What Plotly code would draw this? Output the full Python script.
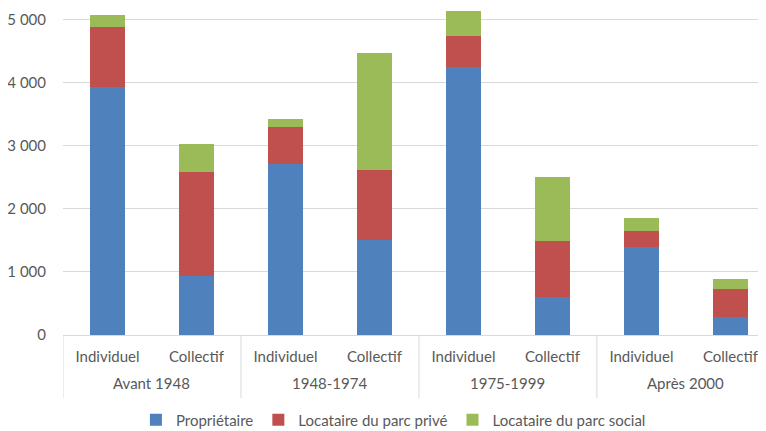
import plotly.graph_objects as go

periodes = ["Avant 1948", "1948-1974", "1975-1999", "Après 2000"]
types = ["Individuel", "Collectif"]

proprietaire = [3930, 940, 2710, 1510, 4250, 600, 1390, 280]
locataire_prive = [960, 1650, 585, 1110, 495, 890, 265, 450]
locataire_social = [185, 440, 135, 1850, 400, 1020, 200, 165]

series = [
    ("Propriétaire", proprietaire, "#4F81BD"),
    ("Locataire du parc privé", locataire_prive, "#C0504D"),
    ("Locataire du parc social", locataire_social, "#9BBB59"),
]

cats = [f"{p}|{t}" for p in periodes for t in types]
cat_text = [t for p in periodes for t in types]

fig = go.Figure()
for name, vals, col in series:
    fig.add_trace(go.Bar(x=cats, y=vals, name=name,
                         marker=dict(color=col, line=dict(width=0))))

grey = "#595959"
line_col = "#D9D9D9"
font_fam = "Lato, Carlito, Open Sans, sans-serif"

# group labels and dividers, placed on the category axis
n = len(types)
for i, p in enumerate(periodes):
    fig.add_annotation(x=i * n + (n - 1) / 2, y=-0.147, xref="x", yref="paper",
                       text=p, showarrow=False, yanchor="middle",
                       font=dict(size=15, color=grey, family=font_fam))
for i in range(len(periodes) + 1):
    fig.add_shape(type="line", xref="x", yref="paper",
                  x0=i * n - 0.5, x1=i * n - 0.5, y0=0, y1=-0.193,
                  line=dict(color=line_col, width=1))

fig.update_layout(
    barmode="stack",
    bargap=0.6,
    width=758, height=423,
    margin=dict(l=55, r=0, t=0, b=96, autoexpand=False),
    paper_bgcolor="white", plot_bgcolor="white",
    separators=", ",
    font=dict(family=font_fam, size=15, color=grey),
    legend=dict(orientation="h", x=0.47, xanchor="center", y=-0.26, yanchor="middle",
                font=dict(size=15, color=grey), itemwidth=30, traceorder="normal"),
    showlegend=True,
)
fig.update_yaxes(range=[0, 5190], dtick=1000, tickformat=",d",
                 showgrid=True, gridcolor=line_col, gridwidth=1,
                 zeroline=False, showline=False, ticks="", automargin=False,
                 ticklabelstandoff=16,
                 tickfont=dict(size=15, color=grey))
fig.update_xaxes(range=[-0.5, 7.4], showline=True, linecolor=line_col, linewidth=1,
                 tickmode="array", tickvals=cats, ticktext=cat_text,
                 ticks="", automargin=False, ticklabelstandoff=8,
                 tickfont=dict(size=15, color=grey))

fig.write_html("out.html")
